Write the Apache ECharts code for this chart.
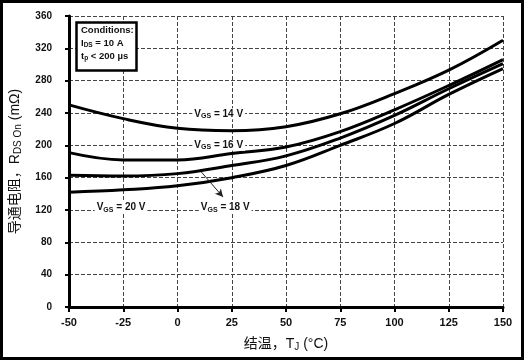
<!DOCTYPE html>
<html>
<head>
<meta charset="utf-8">
<script src="https://cdn.jsdelivr.net/npm/echarts@6/dist/echarts.min.js"></script>
<style>html,body{margin:0;padding:0;background:#fff}#c{width:529px;height:363px}</style>
</head>
<body>
<div id="c"></div>
<script>
// ---- data ----
const temps = [-50, -25, 0, 25, 50, 75, 100, 125, 150];
const vgs14 = [250, 233, 221, 218, 223, 239, 264, 293, 330];
const vgs16 = [191, 182, 182, 190, 198, 217, 244, 274, 306];
const vgs18 = [163, 162, 165, 175, 187, 209, 237, 270, 301];
const vgs20 = [142, 145, 150, 160, 175, 200, 227, 263, 295];
const seriesNames = ['14', '16', '18', '20'];
const xTicks = [-50, 150, 25];
const yTicks = [0, 360, 40];
const labelPos = { '14': [19, 239], '16': [19, 200], '18': [22, 123], '20': [-26, 123] };
const arrowFrom = [11, 167];
const arrowTo = [21, 136];

const font = '"Liberation Sans", Arial, sans-serif';
const cjk = '"Liberation Sans", "Noto Sans CJK SC", sans-serif';
function pairs(v) { return temps.map((t, i) => [t, v[i]]); }
const vals = { '14': vgs14, '16': vgs16, '18': vgs18, '20': vgs20 };
const richV = {
  v: { fontFamily: font, fontSize: 10, fontWeight: 'bold', color: '#111' },
  s: { fontFamily: font, fontSize: 7, fontWeight: 'bold', color: '#111', padding: [4, 0, 0, 0] }
};

const chart = echarts.init(document.getElementById('c'), null, { renderer: 'canvas' });
const series = seriesNames.map(n => ({
  type: 'line', name: n, data: pairs(vals[n]), smooth: 0.4, showSymbol: false,
  lineStyle: { color: '#000', width: 3 }, z: 3,
  markPoint: {
    symbol: 'rect', symbolSize: 0, silent: true,
    label: {
      show: true, position: 'inside', formatter: '{v|V}{s|GS}{v| = ' + n + ' V}',
      rich: richV, backgroundColor: '#fff', padding: [0, 2, 0, 2]
    },
    data: [{ coord: labelPos[n] }]
  },
  markLine: n === '18' ? {
    silent: true, symbol: ['none', 'arrow'], symbolSize: [6, 8],
    lineStyle: { color: '#222', width: 1, type: 'solid' }, label: { show: false },
    data: [[{ coord: arrowFrom }, { coord: arrowTo }]]
  } : undefined
}));

chart.setOption({
  animation: false,
  backgroundColor: '#fff',
  grid: { left: 69, right: 26, top: 16, bottom: 56 },
  xAxis: {
    type: 'value', min: xTicks[0], max: xTicks[1], interval: xTicks[2],
    axisLine: { onZero: false, lineStyle: { color: '#000', width: 3 } },
    axisTick: { length: 5, lineStyle: { color: '#000', width: 2 } },
    axisLabel: { fontFamily: font, fontSize: 11, fontWeight: 'bold', color: '#111', margin: 10 },
    splitLine: { show: true, lineStyle: { color: '#444', width: 1, type: [4, 2] } },
    name: '{c|结温，T}{s|J}{c| (°C)}', nameLocation: 'middle', nameGap: 30,
    nameTextStyle: {
      rich: {
        c: { fontFamily: cjk, fontSize: 14, color: '#111' },
        s: { fontFamily: font, fontSize: 10, color: '#111', padding: [5, 0, 0, 0] }
      }
    }
  },
  yAxis: {
    type: 'value', min: yTicks[0], max: yTicks[1], interval: yTicks[2],
    axisLine: { show: true, onZero: false, lineStyle: { color: '#000', width: 3 } },
    axisTick: { show: true, length: 4, lineStyle: { color: '#000', width: 2 } },
    axisLabel: { fontFamily: font, fontSize: 10, fontWeight: 'bold', color: '#111', margin: 17 },
    splitLine: { show: true, lineStyle: { color: '#444', width: 1, type: [4, 2] } },
    name: '{c|导通电阻，R}{s|DS On}{c| (mΩ)}', nameLocation: 'middle', nameGap: 46, nameRotate: 90,
    nameTextStyle: {
      rich: {
        c: { fontFamily: cjk, fontSize: 14, color: '#111' },
        s: { fontFamily: font, fontSize: 10, color: '#111', padding: [5, 0, 0, 0] }
      }
    }
  },
  series: series,
  graphic: [
    { type: 'rect', shape: { x: 1.5, y: 1.5, width: 521, height: 357 }, style: { fill: 'none', stroke: '#000', lineWidth: 3 }, silent: true, z: 100 },
    { type: 'rect', shape: { x: 76.5, y: 22.5, width: 60, height: 48 }, style: { fill: '#fff', stroke: '#000', lineWidth: 2.5 }, z: 50 },
    { type: 'text', x: 81, y: 25, z: 51, style: { text: 'Conditions:', font: 'bold 9.5px ' + font, fill: '#111' } },
    { type: 'text', x: 81, y: 38, z: 51, style: { text: '{v|I}{s|DS}{v| = 10 A}', rich: { v: { font: 'bold 9.5px ' + font, fill: '#111' }, s: { font: 'bold 6.5px ' + font, fill: '#111', padding: [4, 0, 0, 0] } } } },
    { type: 'text', x: 81, y: 51, z: 51, style: { text: '{v|t}{s|p}{v| < 200 µs}', rich: { v: { font: 'bold 9.5px ' + font, fill: '#111' }, s: { font: 'bold 6.5px ' + font, fill: '#111', padding: [4, 0, 0, 0] } } } }
  ]
});
</script>
</body>
</html>
